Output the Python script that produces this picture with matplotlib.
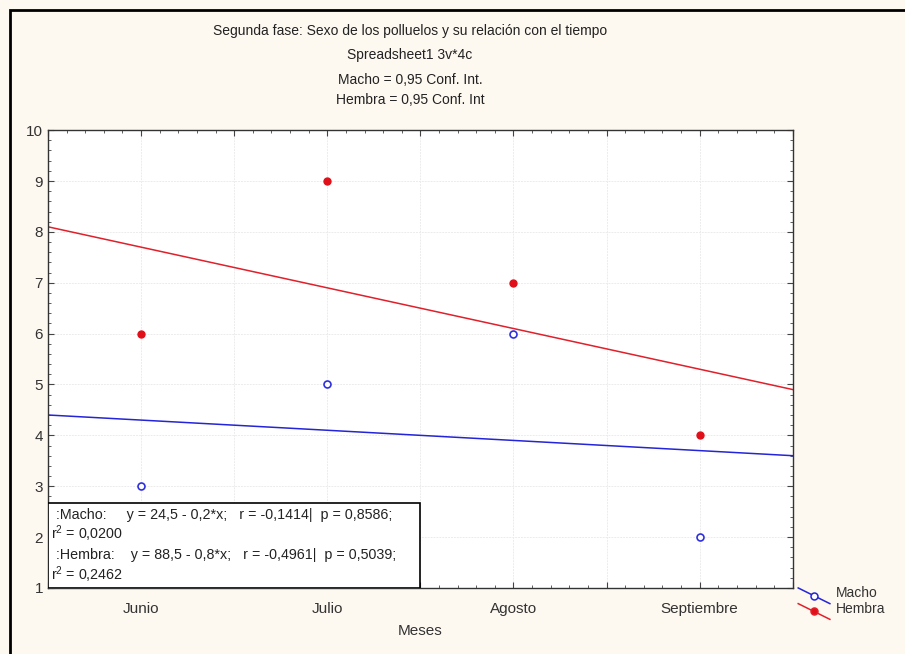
import numpy as np
import matplotlib
matplotlib.use("Agg")
import matplotlib.pyplot as plt
from matplotlib.lines import Line2D
from matplotlib.patches import Rectangle
from matplotlib.ticker import MultipleLocator

plt.rcParams['font.family'] = ['Liberation Sans', 'DejaVu Sans']
plt.rcParams['mathtext.fontset'] = 'custom'
plt.rcParams['mathtext.rm'] = 'Liberation Sans'

# Data
meses = ["Junio", "Julio", "Agosto", "Septiembre"]
macho = [3, 5, 6, 2]
hembra = [6, 9, 7, 4]

x = np.arange(1, len(meses) + 1)

fig = plt.figure(figsize=(9.05, 6.54), dpi=100)
fig.patch.set_facecolor("#fdf8f0")
ax = fig.add_axes([0.053, 0.101, 0.823, 0.700])
ax.set_facecolor("white")

# grid
ax.grid(True, which="major", color="#ececec", linewidth=0.7, linestyle=(0, (2, 1)))
ax.set_axisbelow(True)

# regression lines
xl = np.array([0.5, 4.5])
bm = np.polyfit(x, macho, 1)
bh = np.polyfit(x, hembra, 1)
ax.plot(xl, np.polyval(bm, xl), color="#2424d8", linewidth=1.1)
ax.plot(xl, np.polyval(bh, xl), color="#e0202a", linewidth=1.1)

# points
ax.plot(x, macho, "o", mfc="white", mec="#3030e0", ms=5, mew=1.2, ls="none")
ax.plot(x, hembra, "o", mfc="#e0101a", mec="#e0101a", ms=5, ls="none")

ax.set_xlim(0.5, 4.5)
ax.set_ylim(1, 10)
ax.xaxis.set_minor_locator(MultipleLocator(0.1))
ax.set_yticks(np.arange(1, 11))
ax.yaxis.set_minor_locator(MultipleLocator(0.2))
ax.tick_params(axis="y", labelsize=11, labelcolor="#333333")
ax.tick_params(which="both", direction="in", top=True, right=True, color="#444444")
ax.tick_params(which="major", length=4)
ax.tick_params(which="minor", length=2)
ax.tick_params(axis="x", pad=10)
ax.set_xticks(np.arange(0.5, 4.6, 0.5))
labels = [""]
for m in meses:
    labels += [m, ""]
ax.set_xticklabels(labels, fontsize=11, color="#333333")
for s in ax.spines.values():
    s.set_color("#333333")
    s.set_linewidth(1.0)

ax.set_xlabel("Meses", fontsize=11, color="#333333", labelpad=6)

# titles
tkw = dict(ha="center", va="center", fontsize=10, color="#222222")
fig.text(0.453, 0.952, "Segunda fase: Sexo de los polluelos y su relación con el tiempo", **tkw)
fig.text(0.453, 0.916, "Spreadsheet1 3v*4c", **tkw)
fig.text(0.453, 0.878, "Macho = 0,95 Conf. Int.", **tkw)
fig.text(0.453, 0.847, "Hembra = 0,95 Conf. Int", **tkw)

# stats box
ax.add_patch(Rectangle((0.0, 0.0), 0.50, 0.185, transform=ax.transAxes,
                       facecolor="white", edgecolor="black", linewidth=1.2, zorder=5))
bkw = dict(transform=ax.transAxes, fontsize=10.3, color="#222222", zorder=6, va="center")
ax.text(0.006, 0.160, " :Macho:     y = 24,5 - 0,2*x;   r = -0,1414|  p = 0,8586;", **bkw)
ax.text(0.004, 0.118, "r$^2$ = 0,0200", **bkw)
ax.text(0.006, 0.073, " :Hembra:    y = 88,5 - 0,8*x;   r = -0,4961|  p = 0,5039;", **bkw)
ax.text(0.004, 0.029, "r$^2$ = 0,2462", **bkw)

# legend (outside, lower right)
def leg(y0, color, mfc, label):
    fig.add_artist(Line2D([0.882, 0.917], [y0 + 0.012, y0 - 0.012], color=color,
                          linewidth=1.1, transform=fig.transFigure))
    fig.add_artist(Line2D([0.8995], [y0], marker="o", ms=5, mfc=mfc, mec=color,
                          mew=1.1, transform=fig.transFigure))
    fig.text(0.924, y0 + 0.004, label, fontsize=10, color="#333333", va="center")

leg(0.089, "#2424d8", "white", "Macho")
leg(0.065, "#e0202a", "#e0101a", "Hembra")

# outer frame
fig.add_artist(Rectangle((0.011, -0.01), 1.0, 0.995, transform=fig.transFigure,
                         fill=False, edgecolor="black", linewidth=2.0))

fig.savefig("out.png", dpi=100, facecolor=fig.get_facecolor())
